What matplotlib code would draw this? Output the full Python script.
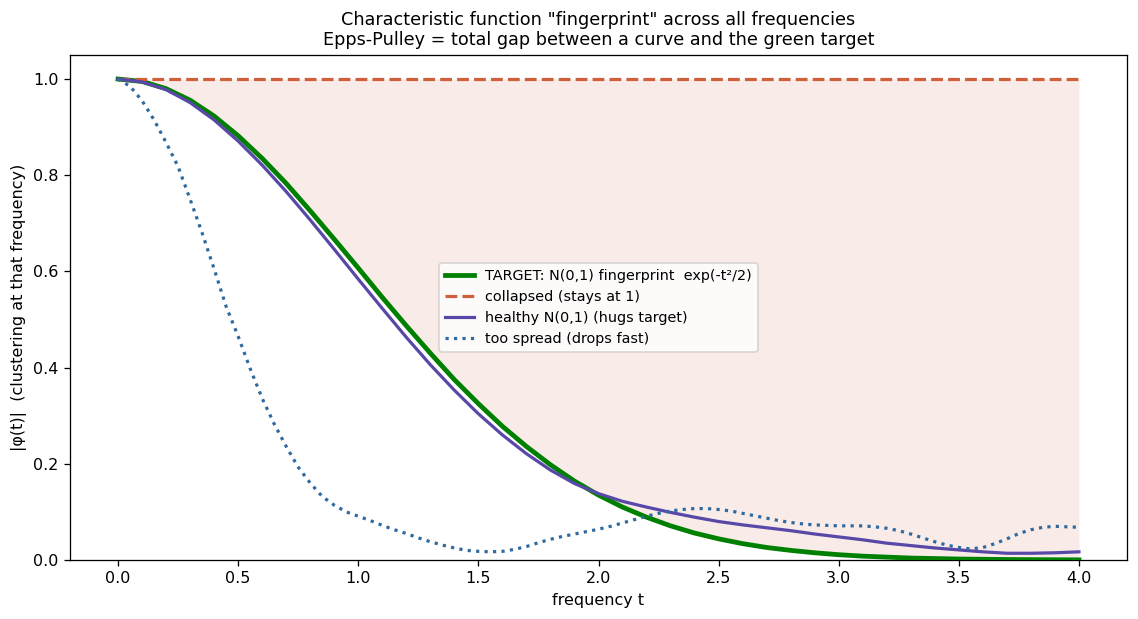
import matplotlib
matplotlib.use("Agg")
import matplotlib.pyplot as plt

# frequency grids
t_coarse = [round(0.1 * i, 2) for i in range(41)]
t_fine = [round(0.05 * i, 2) for i in range(81)]

# TARGET: N(0,1) fingerprint (values read at 0.1 steps)
target = [1.000, 0.995, 0.980, 0.956, 0.923, 0.882, 0.835, 0.783, 0.726, 0.667,
          0.607, 0.546, 0.487, 0.430, 0.375, 0.325, 0.278, 0.236, 0.198, 0.164,
          0.135, 0.110, 0.089, 0.071, 0.056, 0.044, 0.034, 0.026, 0.020, 0.015,
          0.011, 0.008, 0.006, 0.004, 0.003, 0.002, 0.0015, 0.001, 0.0007, 0.0005,
          0.0003]

# collapsed (stays at 1)
collapsed = [1.0] * 41

# healthy N(0,1) (hugs target)
healthy = [1.000, 0.994, 0.978, 0.951, 0.915, 0.871, 0.821, 0.766, 0.707, 0.646,
           0.584, 0.523, 0.463, 0.406, 0.353, 0.304, 0.260, 0.221, 0.187, 0.159,
           0.138, 0.122, 0.110, 0.099, 0.089, 0.080, 0.073, 0.067, 0.061, 0.054,
           0.048, 0.042, 0.035, 0.030, 0.025, 0.021, 0.017, 0.014, 0.014, 0.015,
           0.017]

# too spread (drops fast), values read at 0.05 steps
spread = [1.000, 0.985, 0.955, 0.915, 0.868, 0.818, 0.750, 0.680, 0.605, 0.527,
          0.465, 0.398, 0.336, 0.283, 0.236, 0.193, 0.160, 0.132, 0.114, 0.100,
          0.091, 0.082, 0.072, 0.063, 0.055, 0.046, 0.038, 0.031, 0.025, 0.020,
          0.018, 0.017, 0.018, 0.022, 0.028, 0.036, 0.043, 0.049, 0.054, 0.059,
          0.064, 0.070, 0.077, 0.084, 0.091, 0.097, 0.102, 0.105, 0.107, 0.107,
          0.105, 0.102, 0.097, 0.092, 0.087, 0.082, 0.078, 0.075, 0.073, 0.072,
          0.071, 0.071, 0.071, 0.069, 0.066, 0.061, 0.054, 0.046, 0.038, 0.031,
          0.026, 0.023, 0.026, 0.034, 0.044, 0.055, 0.063, 0.068, 0.070, 0.069,
          0.068]

labels = ["TARGET: N(0,1) fingerprint  exp(-t\u00b2/2)",
          "collapsed (stays at 1)",
          "healthy N(0,1) (hugs target)",
          "too spread (drops fast)"]

c_target = "green"
c_collapsed = "#d0603c"
c_healthy = "#5848a8"
c_spread = "#2e6aa0"

DPI = 115
fig = plt.figure(figsize=(1138 / DPI, 619 / DPI), dpi=DPI)
ax = fig.add_axes([70 / 1138, 1 - 560 / 619, (1127 - 70) / 1138, (560 - 55) / 619])

ax.fill_between(t_coarse, target, collapsed, color=c_collapsed, alpha=0.12, linewidth=0)
ax.plot(t_coarse, target, color=c_target, lw=3, label=labels[0], zorder=3)
ax.plot(t_coarse, collapsed, color=c_collapsed, lw=2, ls="--", label=labels[1], zorder=3)
ax.plot(t_coarse, healthy, color=c_healthy, lw=2, label=labels[2], zorder=4)
ax.plot(t_fine, spread, color=c_spread, lw=2, ls=":", label=labels[3], zorder=4)

ax.set_xlim(-0.2, 4.2)
ax.set_ylim(0, 1.05)
ax.set_xticks([0, 0.5, 1.0, 1.5, 2.0, 2.5, 3.0, 3.5, 4.0])
ax.set_yticks([0, 0.2, 0.4, 0.6, 0.8, 1.0])
ax.tick_params(labelsize=10)
ax.set_xlabel("frequency t", fontsize=10)
ax.set_ylabel("|\u03c6(t)|  (clustering at that frequency)", fontsize=10)
ax.set_title('Characteristic function "fingerprint" across all frequencies\n'
             'Epps-Pulley = total gap between a curve and the green target',
             fontsize=11)
ax.legend(loc="center", fontsize=9)

fig.savefig("out.png", dpi=DPI)
